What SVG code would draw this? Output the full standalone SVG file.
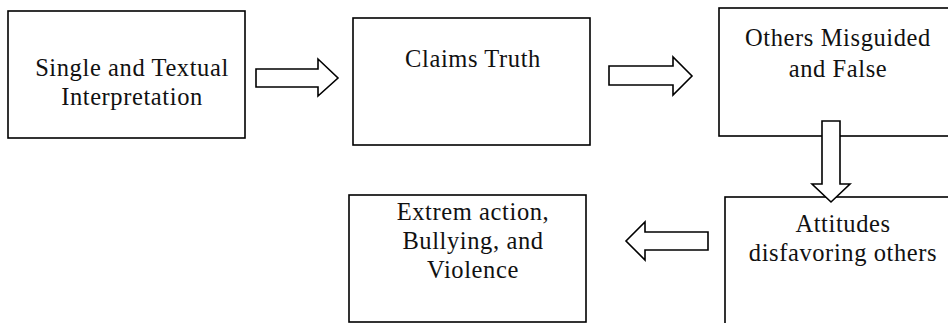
<svg xmlns="http://www.w3.org/2000/svg" width="948" height="323" viewBox="0 0 948 323">
<style>
.box{fill:#fff;stroke:#000;stroke-width:1.6}
.arr{fill:#fff;stroke:#000;stroke-width:1.6;stroke-linejoin:miter}
</style>
<rect width="948" height="323" fill="#fff"/>
<g font-family="Liberation Serif, Times New Roman, Times, serif" font-size="24.5" letter-spacing="0.6" fill="#111" text-anchor="middle">
<g id="n1"><rect class="box" x="8" y="11" width="237" height="127"/>
<text x="132" y="76">Single and Textual</text><text x="132" y="105">Interpretation</text></g>
<g id="n2"><rect class="box" x="353" y="18" width="237" height="127"/>
<text x="473" y="67">Claims Truth</text></g>
<g id="n3"><rect class="box" x="719" y="8" width="240" height="128"/>
<text x="838" y="46">Others Misguided</text><text x="838" y="77">and False</text></g>
<g id="n4"><rect class="box" x="725" y="197" width="240" height="140"/>
<text x="843" y="232">Attitudes</text><text x="843" y="261">disfavoring others</text></g>
<g id="n5"><rect class="box" x="349" y="195" width="237" height="127"/>
<text x="473" y="220">Extrem action,</text><text x="473" y="249">Bullying, and</text><text x="473" y="278">Violence</text></g>
</g>
<g id="connectors">
<polygon class="arr" points="256,69 318,69 318,59 338,78 318,96 318,87 256,87"/>
<polygon class="arr" points="609,66 673,66 673,57 692,76 673,95 673,85 609,85"/>
<polygon class="arr" points="822,121 840,121 840,184 850,184 831,202 812,184 822,184"/>
<polygon class="arr" points="708,232 645,232 645,222 626,241 645,260 645,250 708,250"/>
</g>
</svg>
